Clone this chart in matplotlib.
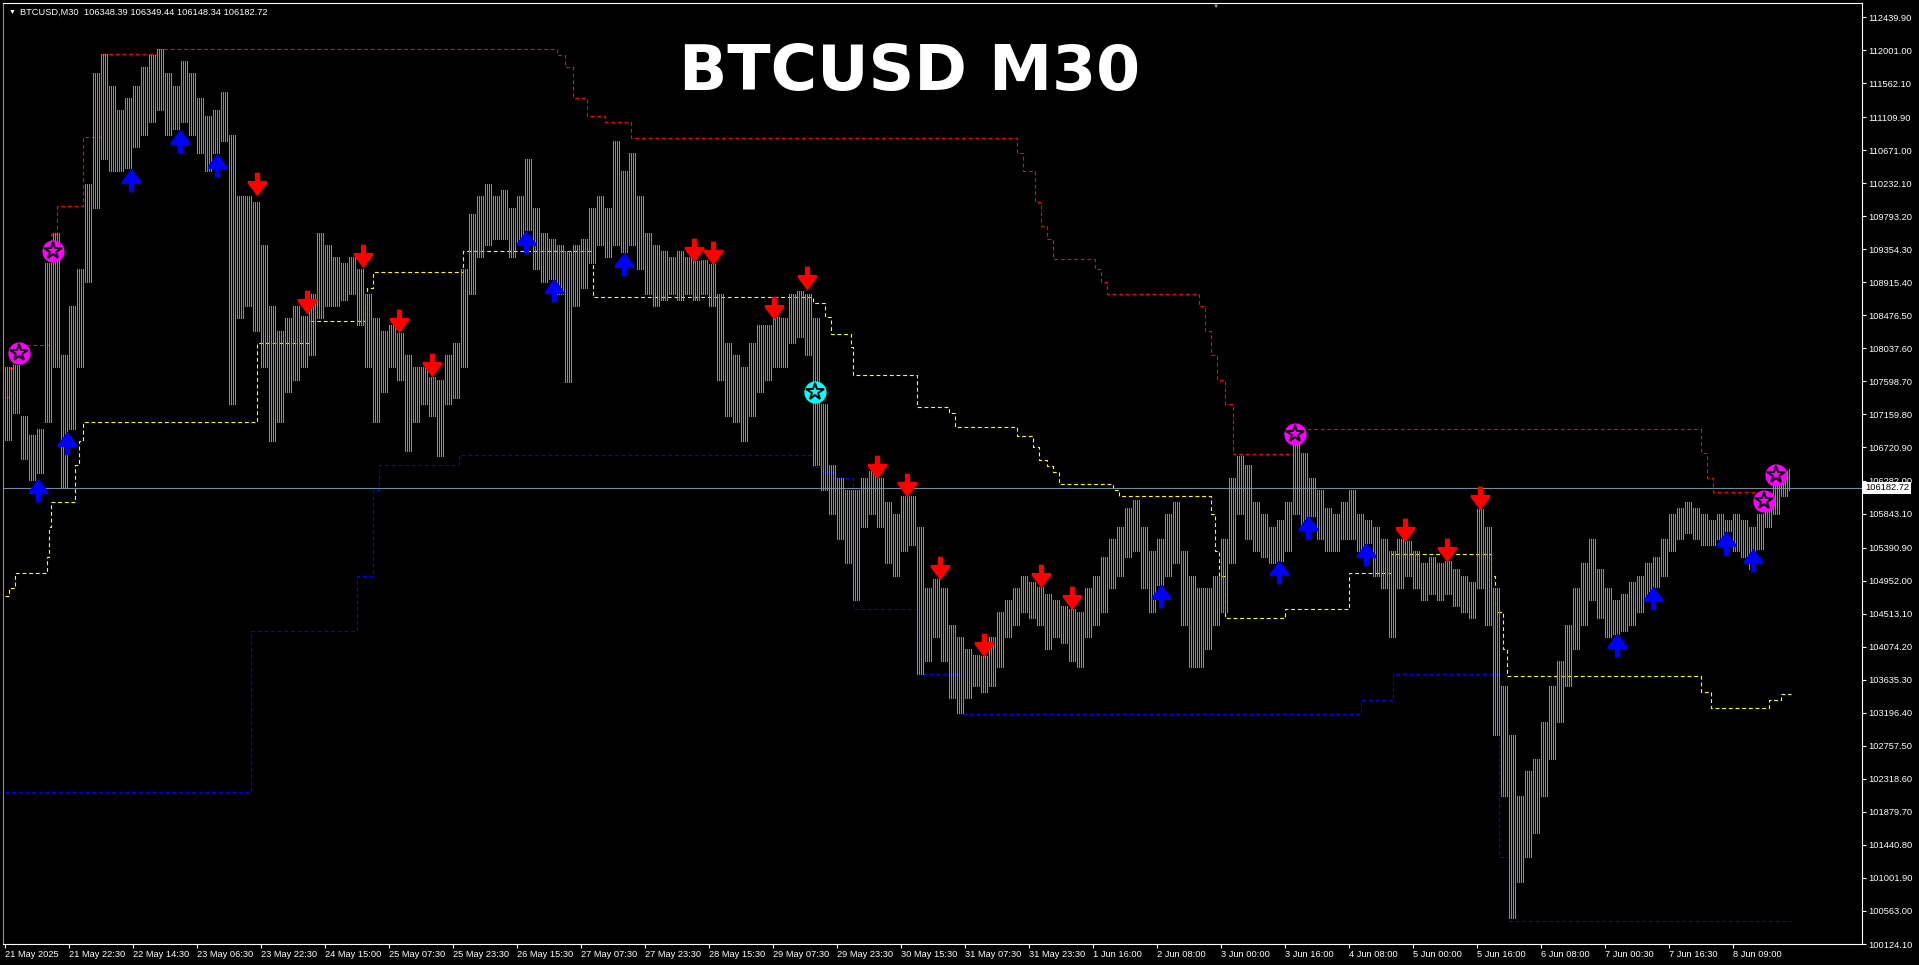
import numpy as np
import matplotlib
matplotlib.use('Agg')
import matplotlib.pyplot as plt
import matplotlib.transforms as mtransforms

# BTCUSD M30, price range of each group of 4 bars
group_high = [107785, 107818, 107134, 106890, 106971, 109168, 109575, 107948, 108599, 109087,
              110226, 111690, 111948, 111527, 111202, 111364, 111527, 111771, 111934, 112015,
              111690, 111527, 111853, 111690, 111364, 111120, 111202, 111446, 110876, 110063,
              110063, 109981, 109412, 108599, 108273, 108436, 108599, 108468, 108761, 109575,
              109412, 109249, 109168, 109249, 109087, 108761, 108436, 108273, 108354, 108241,
              107948, 107785, 107785, 107655, 107622, 107948, 108110, 109087, 109819, 110063,
              110226, 110063, 110144, 109900, 110063, 110551, 109900, 109575, 109493, 109412,
              109331, 109412, 109493, 109900, 110063, 109900, 110795, 110388, 110632, 110063,
              109575, 109412, 109331, 109249, 109331, 109249, 109200, 109217, 109152, 108761,
              108110, 107948, 107785, 108110, 108354, 108354, 108452, 108436, 108761, 108794,
              108761, 108436, 107297, 106483, 106321, 106158, 106158, 106321, 106402, 106321,
              105995, 105833, 106077, 106077, 105670, 104856, 104970, 104856, 104368, 104206,
              104043, 103961, 103945, 104206, 104531, 104694, 104856, 105019, 104938, 104873,
              104775, 104694, 104612, 104580, 104531, 104856, 105019, 105263, 105507, 105670,
              105914, 106028, 105670, 105345, 105507, 105833, 105995, 105345, 105019, 104856,
              104856, 105019, 105507, 106321, 106614, 106483, 105995, 105833, 105670, 105751,
              105995, 106971, 106646, 106321, 106158, 105914, 105833, 105995, 106158, 105833,
              105751, 105670, 105507, 105345, 105507, 105475, 105345, 105182, 105263, 105182,
              105214, 105100, 105019, 104938, 105898, 105670, 104856, 103555, 102904, 102091,
              102416, 102579, 103067, 103555, 103880, 104368, 104856, 105182, 105507, 105100,
              104856, 104694, 104775, 104938, 105019, 105182, 105263, 105507, 105833, 105914,
              105995, 105914, 105833, 105751, 105833, 105751, 105833, 105751, 105670, 105833,
              106077, 106239, 106402, 106434]
group_low = [106825, 107183, 106565, 106288, 106386, 107053, 107785, 106191, 106971, 107785,
             108924, 109900, 110551, 110388, 110388, 110437, 110714, 110876, 111039, 111202,
             110876, 110958, 111039, 110876, 110632, 110388, 110632, 110795, 107297, 108436,
             108599, 108273, 107785, 106809, 107053, 107460, 107622, 107785, 107948, 108436,
             108599, 108599, 108680, 108761, 108354, 107785, 107053, 107460, 107785, 107622,
             106679, 107053, 107297, 107134, 106614, 107297, 107378, 107785, 108761, 109249,
             109412, 109493, 109493, 109249, 109412, 109607, 109087, 108924, 108956, 108761,
             107590, 108599, 108842, 109168, 109412, 109249, 109412, 109314, 109412, 109087,
             108761, 108599, 108680, 108761, 108680, 108761, 108680, 108761, 108599, 107622,
             107134, 107053, 106809, 107134, 107460, 107622, 107785, 107785, 108110, 108192,
             107948, 106483, 106158, 105833, 105507, 105182, 104694, 105670, 105833, 105670,
             105182, 105019, 105345, 105426, 103717, 103880, 104206, 103880, 103392, 103197,
             103392, 103555, 103473, 103555, 103799, 104206, 104368, 104531, 104450, 104368,
             104043, 104206, 104124, 103880, 103799, 104206, 104368, 104531, 104856, 105019,
             105263, 105345, 104856, 104531, 104889, 105019, 105182, 104368, 103799, 103799,
             104043, 104368, 104531, 105182, 105833, 105507, 105345, 105263, 105182, 105214,
             105345, 105833, 105670, 105816, 105507, 105345, 105345, 105507, 105507, 105345,
             105458, 105019, 104856, 104206, 104856, 105019, 104856, 104694, 104775, 104694,
             104775, 104612, 104531, 104450, 104856, 104368, 102904, 102091, 100464, 100952,
             101277, 101602, 102091, 102579, 103067, 103555, 104043, 104368, 104694, 104450,
             104206, 104238, 104287, 104368, 104531, 104694, 104873, 105019, 105345, 105507,
             105589, 105507, 105426, 105426, 105507, 105605, 105345, 105263, 105101, 105377,
             105670, 105833, 106077, 106158]
bars_per_group = 4
n_bars = 893

# indicator step lines: bar index where a level starts, and the level
red_idx = [0, 2, 4, 22, 23, 26, 39, 48, 76, 276, 280, 284, 291, 300, 313, 506, 509, 515,
           518, 521, 524, 545, 548, 551, 597, 600, 603, 606, 610, 614, 644, 848, 851, 854, 879]
red_val = [107391, 107776, 108082, 109211, 109557, 109929, 110846, 111948, 112015, 111930,
           111770, 111360, 111120, 111040, 110830, 110630, 110390, 109980, 109660, 109490,
           109220, 109090, 108920, 108760, 108600, 108270, 107950, 107620, 107300, 106640,
           106971, 106650, 106320, 106130, 106130]
yellow_idx = [0, 2, 5, 21, 22, 23, 35, 37, 39, 126, 152, 180, 181, 184, 229, 294, 404, 410,
              413, 423, 424, 456, 472, 475, 506, 514, 517, 521, 524, 527, 554, 557, 603, 605,
              607, 610, 640, 672, 693, 743, 745, 749, 751, 848, 853, 882, 888, 893]
yellow_val = [104742, 104856, 105051, 105263, 105670, 105995, 106483, 106809, 107053, 108110,
              108403, 108598, 108842, 109054, 109331, 108720, 108640, 108454, 108228, 108056,
              107684, 107258, 107179, 106993, 106873, 106727, 106554, 106480, 106400, 106239,
              106158, 106077, 105833, 105345, 105019, 104450, 104580, 105051, 105312, 105019,
              104531, 104043, 103685, 103474, 103262, 103360, 103441, 103441]
blue_idx = [0, 123, 176, 184, 187, 227, 404, 409, 414, 424, 457, 477, 678, 694, 747, 752, 893]
blue_val = [102139, 104287, 105019, 106158, 106483, 106620, 106461, 106400, 106321, 104580,
            103717, 103180, 103360, 103717, 101277, 100430, 100430]

# signal arrows (bar index, price)
sell_idx = [126, 151, 179, 197, 213.5, 344.5, 354, 384.5, 401, 436, 451, 467.5, 489.5, 518,
            533.5, 700, 721, 737.5]
sell_px = [110226, 108647, 109266, 108403, 107818, 109347, 109298, 108574, 108972, 106467,
           106223, 105116, 104091, 105019, 104726, 105621, 105361, 106044]
buy_idx = [16.5, 31, 63, 87.5, 106, 260.5, 274.5, 309.5, 578, 637, 651.5, 680.5, 806, 824,
           860.5, 874]
buy_px = [106156, 106776, 110274, 110795, 110470, 109444, 108810, 109152, 104742, 105068,
          105670, 105312, 104091, 104726, 105458, 105230]
star_m_idx = [7, 24, 645, 879.5, 885.5]
star_m_px = [107976, 109331, 106906, 106011, 106353]
star_c_idx = [405]
star_c_px = [107458]

last_price = 106182.72
ohlc_text = 'BTCUSD,M30  106348.39 106349.44 106148.34 106182.72'

price_ticks = [112439.90, 112001.00, 111562.10, 111109.90, 110671.00, 110232.10, 109793.20,
               109354.30, 108915.40, 108476.50, 108037.60, 107598.70, 107159.80, 106720.90,
               106282.00, 105843.10, 105390.90, 104952.00, 104513.10, 104074.20, 103635.30,
               103196.40, 102757.50, 102318.60, 101879.70, 101440.80, 101001.90, 100563.00,
               100124.10]
time_labels = ['21 May 2025', '21 May 22:30', '22 May 14:30', '23 May 06:30', '23 May 22:30',
               '24 May 15:00', '25 May 07:30', '25 May 23:30', '26 May 15:30', '27 May 07:30',
               '27 May 23:30', '28 May 15:30', '29 May 07:30', '29 May 23:30', '30 May 15:30',
               '31 May 07:30', '31 May 23:30', '1 Jun 16:00', '2 Jun 08:00', '3 Jun 00:00',
               '3 Jun 16:00', '4 Jun 08:00', '5 Jun 00:00', '5 Jun 16:00', '6 Jun 08:00',
               '7 Jun 00:30', '7 Jun 16:30', '8 Jun 09:00']
time_idx = [32 * k for k in range(len(time_labels))]

W, H = 1919, 965
fig = plt.figure(figsize=(W / 100, H / 100), dpi=100, facecolor='black')
ax = fig.add_axes([3 / W, 21 / H, 1859 / W, 941 / H], facecolor='black')
ax.set_xlim(-1, 928.5)
ax.set_ylim(100124.1, 112625.9)

font = ['Liberation Sans', 'DejaVu Sans']

# price bars: every bar of a group spans the group's range
bar_x = np.arange(n_bars)
bar_lo = np.repeat(group_low, bars_per_group)[:n_bars]
bar_hi = np.repeat(group_high, bars_per_group)[:n_bars]
ax.vlines(bar_x, bar_lo, bar_hi, color='#32CD32', lw=0.72, antialiased=False, zorder=2)

# channel lines
dash = (0, (3.5, 2.5))
ax.step(red_idx, red_val, where='post', color='red', lw=0.8, ls=dash, zorder=1)
ax.step(yellow_idx, yellow_val, where='post', color='yellow', lw=0.8, ls=dash, zorder=1)
ax.step(blue_idx, blue_val, where='post', color='blue', lw=0.8, ls=dash, zorder=1)

ax.axhline(last_price, color='#778899', lw=0.8, zorder=1.5)

up_arrow = [(0, 11.5), (9.5, -1), (9.5, -3.5), (2.5, -3.5), (2.5, -11.5), (-2.5, -11.5),
            (-2.5, -3.5), (-9.5, -3.5), (-9.5, -1), (0, 11.5)]
down_arrow = [(x, -y) for x, y in up_arrow]
ax.plot(sell_idx, sell_px, ls='none', marker=down_arrow, ms=17, mfc='red', mec='red',
        mew=0, zorder=4)
ax.plot(buy_idx, buy_px, ls='none', marker=up_arrow, ms=17, mfc='blue', mec='blue',
        mew=0, zorder=4)

for sx, sp, c in [(star_m_idx, star_m_px, '#FF00FF'), (star_c_idx, star_c_px, '#00FFFF')]:
    ax.plot(sx, sp, ls='none', marker='o', ms=15, mfc=c, mec=c, zorder=5)
    ax.plot(sx, sp, ls='none', marker='*', ms=13, mfc='none', mec='black', mew=1.4, zorder=6)

# axes styling
for s in ax.spines.values():
    s.set_color('white')
    s.set_linewidth(0.8)
ax.spines['left'].set_color('#909090')

ax.yaxis.tick_right()
ax.set_yticks(price_ticks)
ax.set_yticklabels(['%.2f' % p for p in price_ticks])
ax.tick_params(axis='y', which='both', direction='out', length=3, width=0.8, colors='white',
               pad=1.5, labelsize=6.7)
ax.set_xticks(time_idx)
ax.set_xticklabels(time_labels, ha='left')
ax.tick_params(axis='x', direction='out', length=3, width=0.8, colors='white', pad=1.5,
               labelsize=6.7)
for lab in ax.get_xticklabels() + ax.get_yticklabels():
    lab.set_family(font)

# last price box
tr = mtransforms.blended_transform_factory(ax.transAxes, ax.transData)
ax.text(1.0017, last_price, '%.2f' % last_price, transform=tr, ha='left', va='center',
        fontsize=6.7, family=font, color='black', zorder=10, clip_on=False,
        bbox=dict(boxstyle='square,pad=0.18', fc='white', ec='none'))

# header and title
fig.text(9 / W, 1 - 12 / H, '\u25bc', fontsize=5, color='white', va='center', family=font)
fig.text(20 / W, 1 - 12 / H, ohlc_text, fontsize=6.7, color='white', va='center', family=font)
fig.text(910 / W, 1 - 73 / H, 'BTCUSD M30', fontsize=45.6, color='white', weight='bold',
         ha='center', va='center', family='DejaVu Sans')

# chart shift marker
fig.text(1216 / W, 1 - 6 / H, '\u25bc', fontsize=4.5, color='#a0a0a0', ha='center',
         va='center', family=font)

fig.savefig('out.png', dpi=100, facecolor='black')
